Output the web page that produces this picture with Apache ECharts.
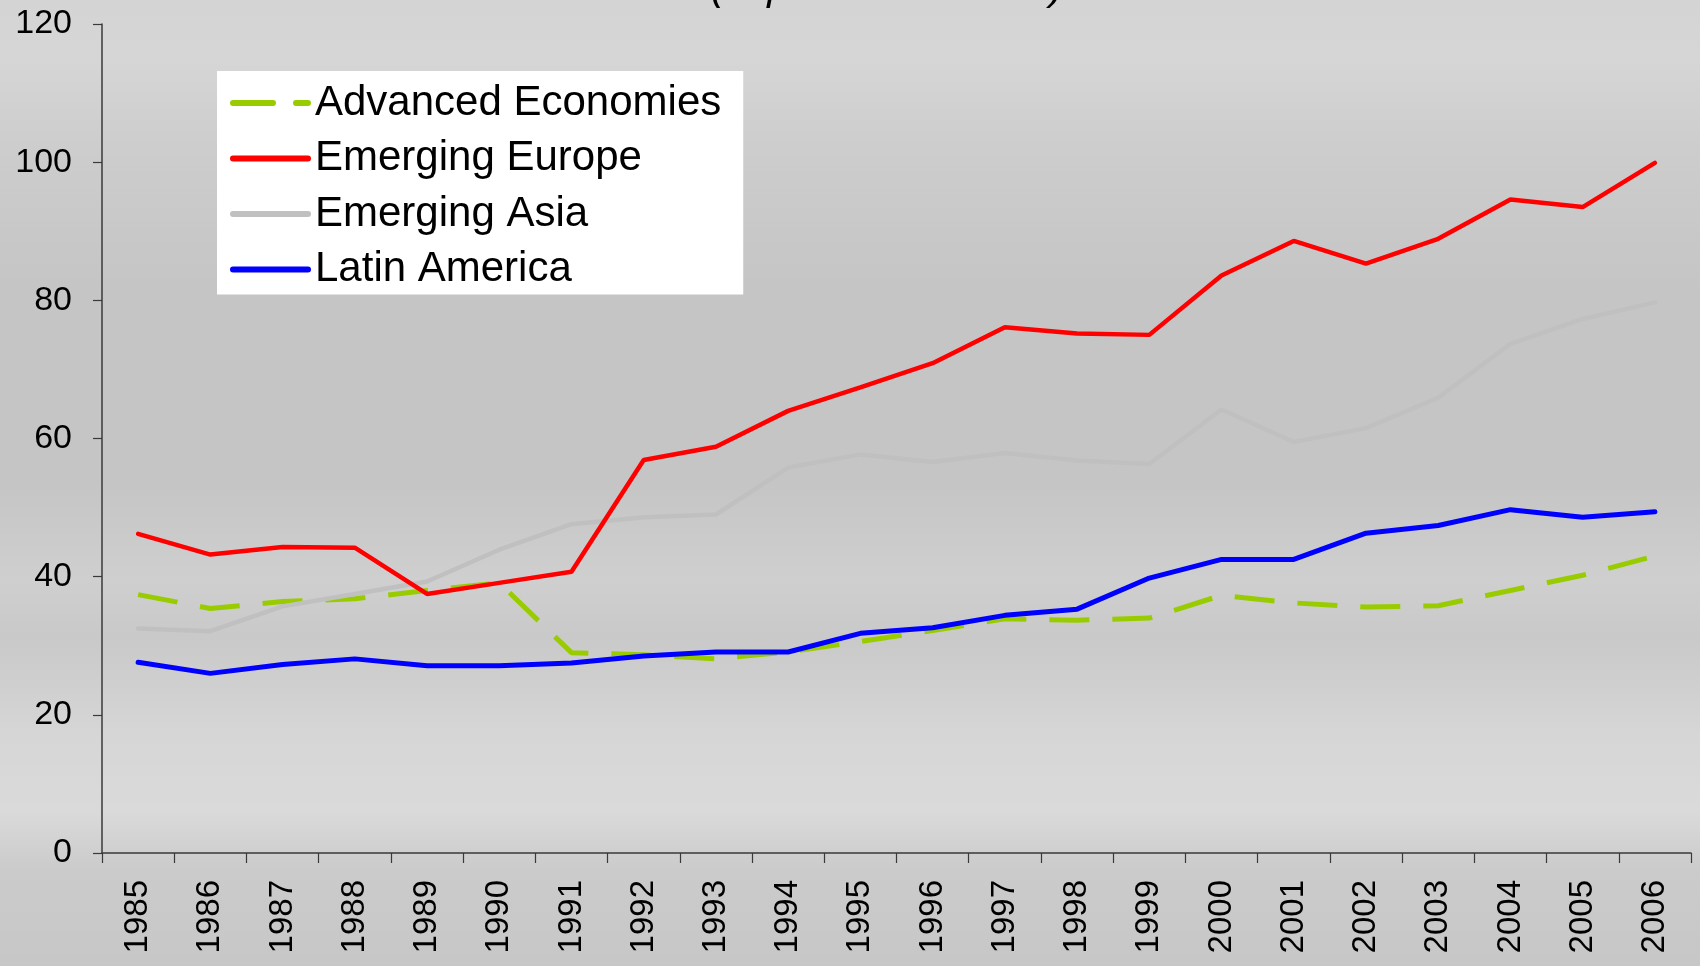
<!DOCTYPE html>
<html><head><meta charset="utf-8">
<script src="https://cdn.jsdelivr.net/npm/echarts@6/dist/echarts.min.js"></script>
<style>html,body{margin:0;padding:0;background:#cccccc;}#c{width:1700px;height:966px;}</style>
</head><body><div id="c"></div><script>
const years = ['1985','1986','1987','1988','1989','1990','1991','1992','1993','1994','1995','1996','1997','1998','1999','2000','2001','2002','2003','2004','2005','2006'];
const advancedEconomies = [37.4, 35.4, 36.4, 36.8, 38.0, 39.1, 29.0, 28.7, 28.1, 29.1, 30.6, 32.2, 33.9, 33.7, 34.0, 37.3, 36.2, 35.6, 35.8, 38.0, 40.2, 43.0];
const emergingEurope = [46.2, 43.2, 44.3, 44.2, 37.5, 39.1, 40.7, 56.9, 58.8, 64.0, 67.4, 70.9, 76.1, 75.2, 75.0, 83.6, 88.6, 85.3, 88.9, 94.6, 93.5, 99.9];
const emergingAsia = [32.5, 32.1, 35.7, 37.5, 39.3, 43.9, 47.6, 48.6, 49.0, 55.8, 57.7, 56.6, 57.9, 56.8, 56.3, 64.2, 59.5, 61.5, 65.9, 73.7, 77.3, 79.7];
const latinAmerica = [27.6, 26.0, 27.3, 28.1, 27.1, 27.1, 27.5, 28.5, 29.1, 29.1, 31.8, 32.6, 34.4, 35.3, 39.8, 42.5, 42.5, 46.3, 47.4, 49.7, 48.6, 49.4];
const seriesNames = ['Advanced Economies', 'Emerging Europe', 'Emerging Asia', 'Latin America'];
const yTicks = { min: 0, max: 120, interval: 20 };
const subtitle = '(in percent of GDP)';

const FONT = "'Liberation Sans', Arial, sans-serif";
const chart = echarts.init(document.getElementById('c'), null, { renderer: 'canvas' });
chart.setOption({
  animation: false,
  backgroundColor: {
    type: 'linear', x: 0, y: 0, x2: 0, y2: 1,
    colorStops: [
      { offset: 0, color: '#d4d4d4' },
      { offset: 0.06, color: '#d6d6d6' },
      { offset: 0.15, color: '#cdcdcd' },
      { offset: 0.3, color: '#c5c5c5' },
      { offset: 0.5, color: '#c5c5c5' },
      { offset: 0.6, color: '#cfcfcf' },
      { offset: 0.66, color: '#c9c9c9' },
      { offset: 0.76, color: '#d6d6d6' },
      { offset: 0.84, color: '#dadada' },
      { offset: 0.9, color: '#cbcbcb' },
      { offset: 1, color: '#c7c7c7' }
    ]
  },
  graphic: [{
    type: 'text', x: 887, y: 9, z: 10,
    style: { text: subtitle, font: 'italic 41px ' + FONT, fill: '#000', align: 'center', verticalAlign: 'bottom' }
  }],
  grid: { left: 102, right: 9, top: 24, bottom: 113, containLabel: false },
  legend: {
    orient: 'vertical', left: 217, top: 71,
    padding: [11, 22, 4, 13],
    itemWidth: 75, itemHeight: 20, itemGap: 13.5,
    backgroundColor: '#ffffff', borderWidth: 0,
    itemStyle: { opacity: 0, borderWidth: 0 },
    lineStyle: { width: 6, cap: 'round' },
    textStyle: { fontSize: 42, lineHeight: 41, fontFamily: FONT, color: '#000', padding: [0, 0, 0, 2] },
    data: seriesNames
  },
  xAxis: {
    type: 'category', data: years, boundaryGap: true,
    axisLine: { show: true, lineStyle: { color: '#3a3a3a', width: 1.5 } },
    axisTick: { show: true, length: 10, lineStyle: { color: '#3a3a3a', width: 1.2 } },
    axisLabel: { rotate: 90, interval: 0, fontSize: 33, margin: 27, color: '#000', fontFamily: FONT },
    splitLine: { show: false }
  },
  yAxis: {
    type: 'value', min: yTicks.min, max: yTicks.max, interval: yTicks.interval,
    axisLine: { show: true, lineStyle: { color: '#3a3a3a', width: 1.5 } },
    axisTick: { show: true, length: 9, lineStyle: { color: '#3a3a3a', width: 1.2 } },
    axisLabel: { fontSize: 34, margin: 30, color: '#000', fontFamily: FONT },
    splitLine: { show: false }
  },
  series: [
    { name: seriesNames[0], type: 'line', data: advancedEconomies, symbol: 'none', z: 2,
      lineStyle: { color: '#99cc00', width: 5, type: [40, 23], cap: 'butt' }, itemStyle: { color: '#99cc00' } },
    { name: seriesNames[1], type: 'line', data: emergingEurope, symbol: 'none', z: 4,
      lineStyle: { color: '#ff0000', width: 4.5, cap: 'round' }, itemStyle: { color: '#ff0000' } },
    { name: seriesNames[2], type: 'line', data: emergingAsia, symbol: 'none', z: 3,
      lineStyle: { color: '#c0c0c0', width: 4.5, cap: 'round' }, itemStyle: { color: '#c0c0c0' } },
    { name: seriesNames[3], type: 'line', data: latinAmerica, symbol: 'none', z: 5,
      lineStyle: { color: '#0000ff', width: 5, cap: 'round' }, itemStyle: { color: '#0000ff' } }
  ]
});
</script></body></html>
